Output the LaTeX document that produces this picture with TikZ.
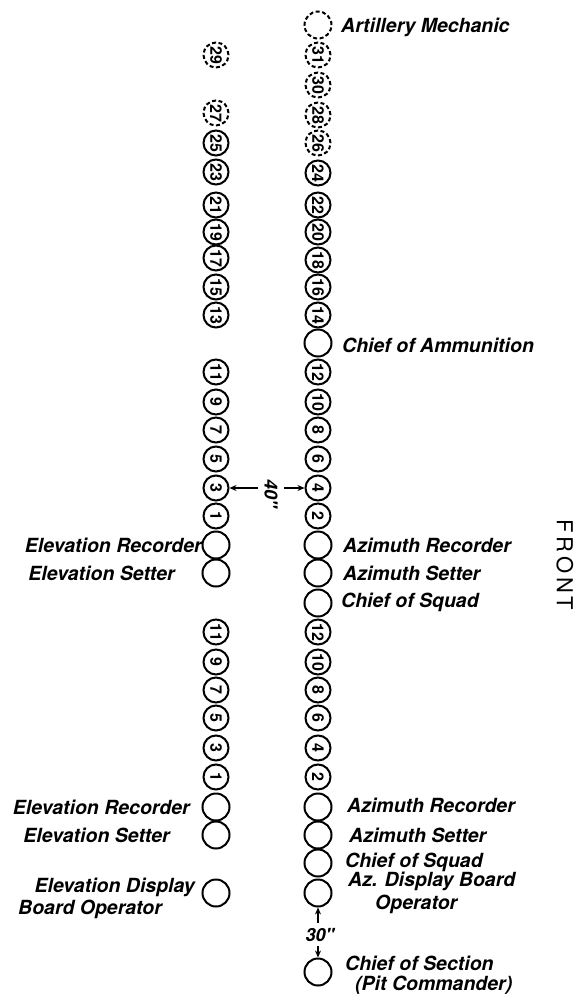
\documentclass[tikz,border=0pt]{standalone}
\usepackage{fontspec}
\setmainfont{TeX Gyre Heros}
\usetikzlibrary{arrows.meta}
\begin{document}
\begin{tikzpicture}[x=1pt,y=-1pt,
  seat/.style={circle,draw,line width=2pt,minimum size=27pt,inner sep=0pt},
  num/.style={circle,draw,line width=2pt,minimum size=25pt,inner sep=0pt,
    font=\fontsize{16}{16}\selectfont\bfseries,rotate=-90},
  dsh/.style={dash pattern=on 4pt off 2.5pt},
  lbl/.style={font=\fontsize{19.5}{22}\selectfont\bfseries\itshape,inner sep=0pt},
  arr/.style={line width=1.5pt,-{Stealth[length=7pt,width=6pt]}},
  front/.style={font=\fontsize{22}{22}\selectfont,rotate=-90,inner sep=0pt}]
\useasboundingbox[fill=white] (0,0) rectangle (585,994);

% right column
\node[seat,dsh] (RArt) at (318,25) {};
\foreach \nm/\t/\yy in {R31/31/55,R30/30/85,R28/28/115,R26/26/143}
  \node[num,dsh] (\nm) at (318,\yy) {\t};
\foreach \nm/\t/\yy in {R24/24/173,R22/22/205,R20/20/232,R18/18/260,R16/16/287,R14/14/315,
  Ra12/12/372,Ra10/10/402,Ra8/8/430,Ra6/6/459,Ra4/4/488,Ra2/2/516,
  Rb12/12/632,Rb10/10/662,Rb8/8/690,Rb6/6/718,Rb4/4/748,Rb2/2/777}
  \node[num] (\nm) at (318,\yy) {\t};
\foreach \nm/\yy in {RAmm/343,RAzRa/545,RAzSa/573,RCSa/603,RAzRb/807,RAzSb/835,RCSb/863,RDisp/893,RSec/972}
  \node[seat] (\nm) at (318,\yy) {};

% left column
\foreach \nm/\t/\yy in {L29/29/55,L27/27/113}
  \node[num,dsh] (\nm) at (216,\yy) {\t};
\foreach \nm/\t/\yy in {L25/25/143,L23/23/172,L21/21/205,L19/19/232,L17/17/258,L15/15/287,L13/13/315,
  La11/11/372,La9/9/402,La7/7/430,La5/5/459,La3/3/488,La1/1/516,
  Lb11/11/632,Lb9/9/662,Lb7/7/690,Lb5/5/718,Lb3/3/748,Lb1/1/777}
  \node[num] (\nm) at (216,\yy) {\t};
\foreach \nm/\yy in {LERa/545,LESa/573,LERb/807,LESb/835,LDisp/893}
  \node[seat] (\nm) at (216,\yy) {};

% right labels
\node[lbl,anchor=base west] (tArt) at (341,32) {Artillery Mechanic};
\node[lbl,anchor=base west] (tAmm) at (342,352) {Chief of Ammunition};
\node[lbl,anchor=base west] (tAzRa) at (343,552) {Azimuth Recorder};
\node[lbl,anchor=base west] (tAzSa) at (343,580) {Azimuth Setter};
\node[lbl,anchor=base west] (tCSa) at (341,607) {Chief of Squad};
\node[lbl,anchor=base west] (tAzRb) at (347,812) {Azimuth Recorder};
\node[lbl,anchor=base west] (tAzSb) at (349,842) {Azimuth Setter};
\node[lbl,anchor=base west] (tCSb) at (345,867) {Chief of Squad};
\node[lbl,anchor=base west] (tDa) at (348,886) {Az. Display Board};
\node[lbl,anchor=base west] (tDb) at (375,909) {Operator};
\node[lbl,anchor=base west] (tSa) at (345,970) {Chief of Section};
\node[lbl,anchor=base west] (tSb) at (355,990) {(Pit Commander)};

% left labels
\node[lbl,anchor=base east] (tERa) at (202,552) {Elevation Recorder};
\node[lbl,anchor=base east] (tESa) at (175,580) {Elevation Setter};
\node[lbl,anchor=base east] (tERb) at (190,814) {Elevation Recorder};
\node[lbl,anchor=base east] (tESb) at (170,842) {Elevation Setter};
\node[lbl,anchor=base east] (tEDa) at (195,892) {Elevation Display};
\node[lbl,anchor=base west] (tEDb) at (18,914) {Board Operator};

% front
\node[front] (tFront) at (565,565) {F\,R\,O\,N\,T};

% 40 inch spacing
\coordinate (a40L) at (258,488);
\coordinate (a40R) at (284,488);
\draw[arr] (a40L) -- (La3);
\draw[arr] (a40R) -- (Ra4);
\node[lbl,rotate=-90,font=\fontsize{18}{18}\selectfont\bfseries\itshape] (t40) at (271,494) {40\textquotedbl};

% 30 inch spacing
\coordinate (a30U) at (318,923);
\coordinate (a30D) at (318,946);
\draw[arr] (a30U) -- (RDisp);
\draw[arr] (a30D) -- (RSec);
\node[lbl,font=\fontsize{18}{18}\selectfont\bfseries\itshape] (t30) at (320,935) {30\textquotedbl};
\end{tikzpicture}
\end{document}
